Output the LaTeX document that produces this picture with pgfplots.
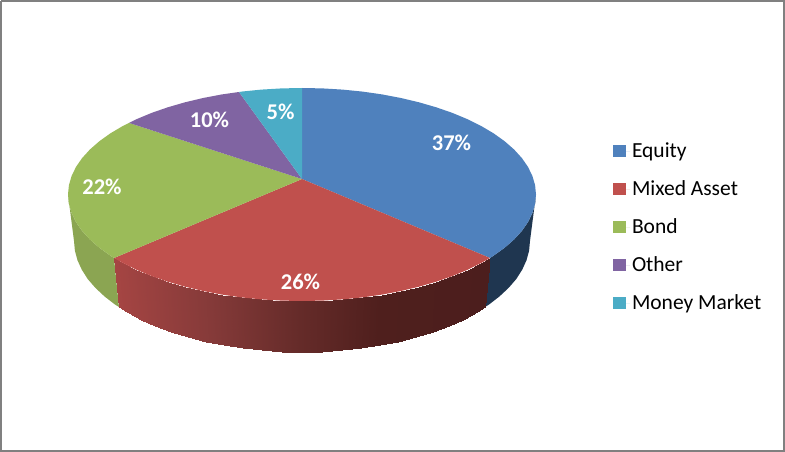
\documentclass[border=0pt]{standalone}
\usepackage{fontspec}
\setmainfont{Carlito}
\usepackage{pgfplots}
\usepackage{pgfplotstable}
\pgfplotsset{compat=1.18}

\definecolor{cEquity}{HTML}{4F81BD}
\definecolor{cMixed}{HTML}{C0504D}
\definecolor{cBond}{HTML}{9BBB59}
\definecolor{cOther}{HTML}{8064A2}
\definecolor{cMoney}{HTML}{4BACC6}
\definecolor{sEquity}{HTML}{1F3650}
\definecolor{sBond}{HTML}{8BA552}
\definecolor{frame}{HTML}{808080}

% red rim: top edge, bottom edge, c = shade position
\pgfplotstableread{
x y c
490 258 490
485 307 490
481.2 263 481
476.6 312.3 481
467.5 269.8 467
463.2 319.5 467
452.4 276.1 452
448.6 326 452
436.2 281.7 436
432.8 331.9 436
419 286.7 419
416 337.1 419
400.9 291 401
398.4 341.6 401
382 294.6 382
380 345.3 382
362.6 297.4 363
361 348.2 363
342.6 299.4 343
341.6 350.3 343
322.4 300.6 322
321.9 351.6 322
302 301 302
302 352 302
281.6 300.6 282
282.1 351.6 282
261.4 299.4 261
262.4 350.3 261
241.4 297.4 241
243 348.2 241
222 294.6 222
224 345.3 222
203.1 291 203
205.6 341.6 203
185 286.7 185
188 337.1 185
167.8 281.7 168
171.2 331.9 168
151.6 276.1 152
155.4 326 152
136.5 269.8 137
140.8 319.5 137
122.8 263 123
127.4 312.3 123
114 258 114
119 307 114
}\redrim

\begin{document}
\begin{tikzpicture}
\begin{axis}[
    scale only axis,
    width=785pt,
    height=452pt,
    xmin=0, xmax=785,
    ymin=0, ymax=452,
    y dir=reverse,
    hide axis,
    clip=false,
    colormap={redrim}{rgb255(0pt)=(165,69,67) rgb255(96pt)=(133,58,57) rgb255(186pt)=(101,43,41) rgb255(266pt)=(79,31,29) rgb255(376pt)=(76,30,29)},
    point meta min=114,
    point meta max=490,
    legend style={
        at={(axis cs:613,141)},
        anchor=north west,
        draw=none,
        fill=none,
        font=\fontsize{21.5}{25}\selectfont,
        row sep=17.6pt,
        inner sep=0pt,
        outer sep=0pt,
    },
    legend cell align=left,
    legend image code/.code={
        \fill[#1] (0pt,-6pt) rectangle (13pt,6pt);
        \path (0pt,0pt) -- (17pt,0pt);
    },
]
% frame
\addplot[frame, line width=2pt, forget plot] coordinates {(1,1) (784,1) (784,451) (1,451) (1,1)};

% rim
\addplot[draw=none, fill=sEquity, forget plot] coordinates {
(536,194.5) (535.1,203.8) (532.4,213) (528,222.1) (521.9,230.9) (514.1,239.5) (504.6,247.8) (493.7,255.6) (490,258)
(485,307) (488.8,304.7) (499.4,296.5) (508.6,287.9) (516.3,279) (522.2,269.7) (526.5,260.3) (529.1,250.7) (530,241)
};
\addplot[draw=none, fill=sBond, forget plot] coordinates {
(114,258) (110.3,255.6) (99.4,247.8) (89.9,239.5) (82.1,230.9) (76,222.1) (71.6,213) (68.9,203.8) (68,194.5)
(74,241) (74.9,250.7) (77.5,260.3) (81.8,269.7) (87.7,279) (95.4,287.9) (104.6,296.5) (115.2,304.7) (119,307)
};
\addplot[surf, shader=interp, mesh/cols=2, point meta=explicit, forget plot]
    table[x=x, y=y, meta=c] {\redrim};

% top face
\addplot[draw=none, fill=cEquity] coordinates {
(302,179) (302,88) (322.4,88.4) (342.6,89.6) (362.6,91.6) (382,94.4) (400.9,98) (419,102.3) (436.2,107.3) (452.4,112.9)
(467.5,119.2) (481.2,126) (493.7,133.4) (504.6,141.2) (514.1,149.5) (521.9,158.1) (528,166.9) (532.4,176) (535.1,185.2)
(536,194.5) (535.1,203.8) (532.4,213) (528,222.1) (521.9,230.9) (514.1,239.5) (504.6,247.8) (493.7,255.6) (490,258)
};
\addlegendentry{Equity}
\addplot[draw=none, fill=cMixed] coordinates {
(302,179) (490,258) (481.2,263) (467.5,269.8) (452.4,276.1) (436.2,281.7) (419,286.7) (400.9,291) (382,294.6) (362.6,297.4)
(342.6,299.4) (322.4,300.6) (302,301) (281.6,300.6) (261.4,299.4) (241.4,297.4) (222,294.6) (203.1,291) (185,286.7)
(167.8,281.7) (151.6,276.1) (136.5,269.8) (122.8,263) (114,258)
};
\addlegendentry{Mixed Asset}
\addplot[draw=none, fill=cBond] coordinates {
(302,179) (114,258) (110.3,255.6) (99.4,247.8) (89.9,239.5) (82.1,230.9) (76,222.1) (71.6,213) (68.9,203.8) (68,194.5)
(68.9,185.2) (71.6,176) (76,166.9) (82.1,158.1) (89.9,149.5) (99.4,141.2) (110.3,133.4) (122.8,126) (129,122.9)
};
\addlegendentry{Bond}
\addplot[draw=none, fill=cOther] coordinates {
(302,179) (129,122.9) (136.5,119.2) (151.6,112.9) (167.8,107.3) (185,102.3) (203.1,98) (222,94.4) (239,92)
};
\addlegendentry{Other}
\addplot[draw=none, fill=cMoney] coordinates {
(302,179) (239,92) (241.4,91.6) (261.4,89.6) (281.6,88.4) (302,88)
};
\addlegendentry{Money Market}

% data labels
\node[text=white, font=\fontsize{22.5}{25}\selectfont\bfseries] at (axis cs:451.5,142.5) {37\%};
\node[text=white, font=\fontsize{22.5}{25}\selectfont\bfseries] at (axis cs:300.5,282) {26\%};
\node[text=white, font=\fontsize{22.5}{25}\selectfont\bfseries] at (axis cs:102,187) {22\%};
\node[text=white, font=\fontsize{22.5}{25}\selectfont\bfseries] at (axis cs:209.5,120) {10\%};
\node[text=white, font=\fontsize{22.5}{25}\selectfont\bfseries] at (axis cs:280.5,112) {5\%};
\end{axis}
\end{tikzpicture}
\end{document}
